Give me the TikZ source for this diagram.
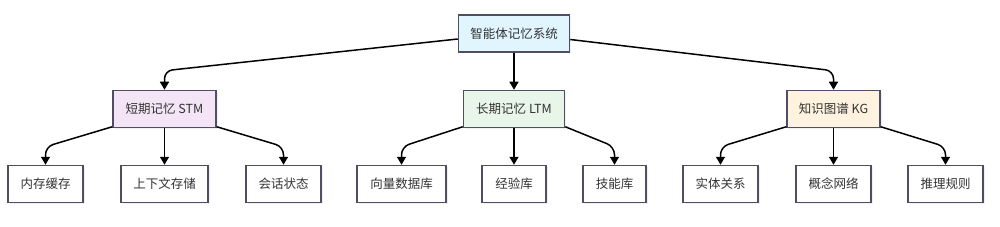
\documentclass[tikz,border=0pt]{standalone}
\usepackage{fontspec}
\setmainfont{Noto Sans CJK SC}
\usetikzlibrary{arrows.meta,shadows}
\definecolor{bordc}{RGB}{78,78,100}
\definecolor{txtc}{RGB}{51,51,51}
\definecolor{rootfill}{RGB}{225,245,254}
\definecolor{stmfill}{RGB}{243,229,245}
\definecolor{ltmfill}{RGB}{232,245,233}
\definecolor{kgfill}{RGB}{255,243,224}
\begin{document}
\begin{tikzpicture}[x=1pt,y=-1pt,
  box/.style={draw=bordc, line width=1.5pt, fill=white, text=txtc, font=\fontsize{12.5}{14}\selectfont,
    inner sep=0pt, minimum height=37pt,
    drop shadow={opacity=0.12, shadow xshift=1.5pt, shadow yshift=-1.5pt}},
  edge/.style={line width=1.5pt, black, rounded corners=8pt, -{Triangle[width=9pt,length=8pt]}}
]
\useasboundingbox (0,0) rectangle (1000,227);
% root
\node[box, fill=rootfill, minimum width=111pt] (root) at (514,33.5) {智能体记忆系统};
% middle
\node[box, fill=stmfill, minimum width=103pt] (stm) at (164.5,109) {短期记忆 STM};
\node[box, fill=ltmfill, minimum width=101pt] (ltm) at (514,109) {长期记忆 LTM};
\node[box, fill=kgfill, minimum width=93pt] (kg) at (833.5,109) {知识图谱 KG};
% leaves
\node[box, minimum width=75pt] (a1) at (45.5,184) {内存缓存};
\node[box, minimum width=87pt] (a2) at (164.5,184) {上下文存储};
\node[box, minimum width=75pt] (a3) at (283.5,184) {会话状态};
\node[box, minimum width=89pt] (b1) at (401.5,184) {向量数据库};
\node[box, minimum width=64pt] (b2) at (514,184) {经验库};
\node[box, minimum width=63pt] (b3) at (614.5,184) {技能库};
\node[box, minimum width=75pt] (c1) at (720.5,184) {实体关系};
\node[box, minimum width=75pt] (c2) at (833.5,184) {概念网络};
\node[box, minimum width=75pt] (c3) at (945.5,184) {推理规则};
% root edges
\draw[edge] ([yshift=-5.5pt]root.west) -- ([yshift=19pt]stm.north) -- (stm.north);
\draw[edge] (root.south) -- (ltm.north);
\draw[edge] ([yshift=-6pt]root.east) -- ([yshift=19pt]kg.north) -- (kg.north);
% STM edges
\draw[edge] ([yshift=1.5pt]stm.south west) -- ([yshift=18pt]a1.north) -- (a1.north);
\draw[edge] (stm.south) -- (a2.north);
\draw[edge] ([yshift=1.5pt]stm.south east) -- ([yshift=18pt]a3.north) -- (a3.north);
% LTM edges
\draw[edge] ([yshift=1.5pt]ltm.south west) -- ([yshift=18pt]b1.north) -- (b1.north);
\draw[edge] (ltm.south) -- (b2.north);
\draw[edge] ([yshift=1.5pt]ltm.south east) -- ([yshift=18pt]b3.north) -- (b3.north);
% KG edges
\draw[edge] ([yshift=1.5pt]kg.south west) -- ([yshift=18pt]c1.north) -- (c1.north);
\draw[edge] (kg.south) -- (c2.north);
\draw[edge] ([yshift=1.5pt]kg.south east) -- ([yshift=18pt]c3.north) -- (c3.north);
\end{tikzpicture}
\end{document}
